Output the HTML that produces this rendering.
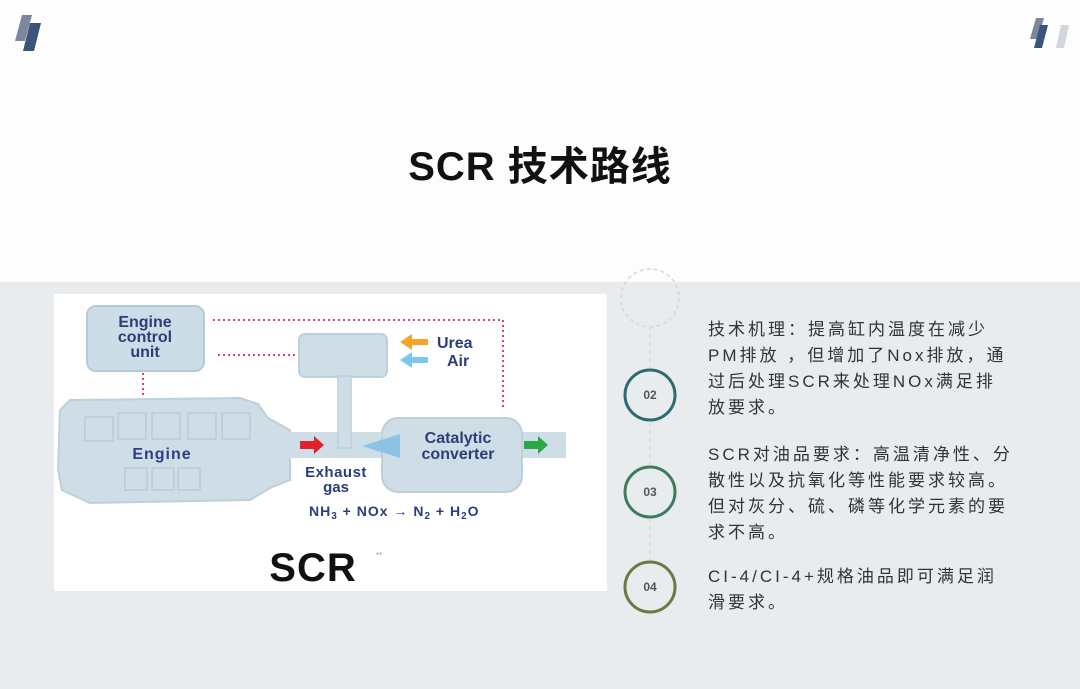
<!DOCTYPE html>
<html><head><meta charset="utf-8"><style>
html,body{margin:0;padding:0}
body{width:1080px;height:689px;position:relative;background:#fdfdfd;overflow:hidden;font-family:"Liberation Sans","Noto Sans CJK SC",sans-serif}
.band{position:absolute;left:0;top:282px;width:1080px;height:407px;background:#e9ecee}
h1{position:absolute;left:0;width:1080px;top:134px;margin:0;text-align:center;font-size:40px;letter-spacing:1px;font-weight:bold;color:#111;font-family:"Liberation Sans","Noto Sans CJK SC",sans-serif}
.txt{position:absolute;left:708px;font-size:17px;line-height:26px;color:#333;letter-spacing:3px;white-space:nowrap}
</style></head><body>
<svg style="position:absolute;left:0;top:0" width="1080" height="70">
<polygon points="22,15 32,15 25,41 15,41" fill="#7d879c"/>
<polygon points="30,23 41,23 34,51 23,51" fill="#3a5579"/>
<polygon points="1036,18 1044,18 1038,39 1030,39" fill="#7d879c"/>
<polygon points="1040,25 1048,25 1042,48 1034,48" fill="#3a5579"/>
<polygon points="1061,25 1069,25 1064,48 1056,48" fill="#d3d7dd"/>
</svg>
<h1>SCR 技术路线</h1>
<div class="band"></div>
<svg style="position:absolute;left:0;top:0" width="1080" height="689">
<rect x="54" y="294" width="553" height="297" fill="#fff"/>
<g stroke="#e0407a" stroke-width="2" stroke-dasharray="2,3" fill="none">
<path d="M213 320 H503 V408"/>
<path d="M218 355 H296"/>
<path d="M143 373 V395"/>
</g>
<rect x="87" y="306" width="117" height="65" rx="9" fill="#ccdde7" stroke="#b5cad6" stroke-width="2"/>
<g font-weight="bold" fill="#2c3e7a" text-anchor="middle" font-size="16">
<text x="145" y="327">Engine</text>
<text x="145" y="342">control</text>
<text x="145" y="357">unit</text>
</g>
<path d="M70 400 L240 398 L258 404 L268 418 L290 430 L290 480 L270 488 L250 500 L90 503 L62 490 L58 470 L60 410 Z" fill="#cedde6" stroke="#bdd0db" stroke-width="2"/>
<g fill="none" stroke="#b8ccd8" stroke-width="1.5">
<rect x="85" y="417" width="28" height="24"/><rect x="118" y="413" width="28" height="26"/><rect x="152" y="413" width="28" height="26"/><rect x="188" y="413" width="28" height="26"/><rect x="222" y="413" width="28" height="26"/>
<rect x="125" y="468" width="22" height="22"/><rect x="152" y="468" width="22" height="22"/><rect x="178" y="468" width="22" height="22"/>
</g>
<text x="162" y="459" text-anchor="middle" font-size="16" letter-spacing="1" font-weight="bold" fill="#2c3e8a">Engine</text>
<rect x="283" y="432" width="283" height="26" fill="#cedde6"/>
<rect x="299" y="334" width="88" height="43" rx="6" fill="#cedde6" stroke="#bdd0db" stroke-width="2"/>
<rect x="338" y="376" width="13" height="72" fill="#cedde6" stroke="#bdd0db" stroke-width="1.5"/>
<rect x="382" y="418" width="140" height="74" rx="16" fill="#cedde6" stroke="#bdd0db" stroke-width="2"/>
<path d="M362 446 L400 434 L400 458 Z" fill="#8cc3e4"/>
<g font-weight="bold" fill="#2c3e7a" text-anchor="middle" font-size="16">
<text x="458" y="443">Catalytic</text>
<text x="458" y="459">converter</text>
</g>
<path d="M300 441 h14 v-5 l10 9 l-10 9 v-5 h-14z" fill="#e0232a"/>
<path d="M524 441 h14 v-5 l10 9 l-10 9 v-5 h-14z" fill="#2aa84a"/>
<path d="M428 339 h-16 v-5 l-12 8 l12 8 v-5 h16z" fill="#f4a529"/>
<path d="M428 357 h-16 v-5 l-12 8 l12 8 v-5 h16z" fill="#7bc8ee"/>
<text x="437" y="348" font-size="16" font-weight="bold" fill="#2c3e7a">Urea</text>
<text x="447" y="366" font-size="16" font-weight="bold" fill="#2c3e7a">Air</text>
<text x="336" y="477" text-anchor="middle" font-size="15" letter-spacing="0.5" font-weight="bold" fill="#2c3e7a">Exhaust</text>
<text x="336" y="492" text-anchor="middle" font-size="15" font-weight="bold" fill="#2c3e7a">gas</text>
<text x="309" y="516" font-size="14" letter-spacing="1" font-weight="bold" fill="#2c3e7a">NH<tspan font-size="10" dy="3">3</tspan><tspan dy="-3"> + NOx → N</tspan><tspan font-size="10" dy="3">2</tspan><tspan dy="-3"> + H</tspan><tspan font-size="10" dy="3">2</tspan><tspan dy="-3">O</tspan></text>
<text x="313" y="581" text-anchor="middle" font-size="40" letter-spacing="1" font-weight="bold" fill="#111">SCR</text>
<text x="376" y="558" font-size="8" fill="#999">**</text>
<line x1="650" y1="327" x2="650" y2="580" stroke="#cfd3d6" stroke-width="1" stroke-dasharray="4,4"/>
<circle cx="650" cy="298" r="29" fill="none" stroke="#d5d8da" stroke-width="1.5" stroke-dasharray="4,3"/>
<circle cx="650" cy="395" r="25" fill="#e9ecee" stroke="#2e6b6f" stroke-width="3"/>
<circle cx="650" cy="492" r="25" fill="#e9ecee" stroke="#3e7a5e" stroke-width="3"/>
<circle cx="650" cy="587" r="25" fill="#e9ecee" stroke="#6b7a45" stroke-width="3"/>
<text x="650" y="399" text-anchor="middle" font-size="12" font-weight="bold" fill="#555">02</text>
<text x="650" y="496" text-anchor="middle" font-size="12" font-weight="bold" fill="#555">03</text>
<text x="650" y="591" text-anchor="middle" font-size="12" font-weight="bold" fill="#555">04</text>
</svg>
<div class="txt" style="top:317px">技术机理：提高缸内温度在减少<br>PM排放 ，但增加了Nox排放，通<br>过后处理SCR来处理NOx满足排<br>放要求。</div>
<div class="txt" style="top:442px">SCR对油品要求：高温清净性、分<br>散性以及抗氧化等性能要求较高。<br>但对灰分、硫、磷等化学元素的要<br>求不高。</div>
<div class="txt" style="top:564px">CI-4/CI-4+规格油品即可满足润<br>滑要求。</div>
</body></html>
